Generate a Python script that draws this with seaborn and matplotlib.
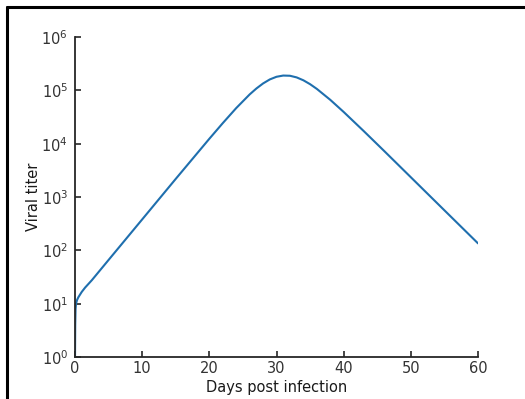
import matplotlib
matplotlib.use("Agg")
import matplotlib.pyplot as plt
import seaborn as sns
import pandas as pd
from matplotlib.lines import Line2D

days = [0, 0.03, 0.08, 0.15, 0.3, 0.5, 1.0, 1.5, 2.5, 5, 10, 15, 20, 22, 24, 26, 27,
        28, 29, 30, 31, 32, 33, 34, 35, 36, 38, 40, 43, 46, 50, 55, 60]
titer = [1, 3.98, 7.94, 10, 11.7, 13.2, 16.6, 20.0, 27.5, 66.1, 380, 2188, 12360,
         24270, 46450, 83750, 108100, 134600, 160000, 179500, 189200, 187500,
         174600, 154200, 130300, 106400, 66370, 39260, 17140, 7345, 2344, 562, 135]
x_ticks = [0, 10, 20, 30, 40, 50, 60]
y_ticks = [1e0, 1e1, 1e2, 1e3, 1e4, 1e5, 1e6]

sns.set_style("ticks")
plt.rcParams['font.family'] = ['DejaVu Sans']
plt.rcParams['xtick.direction'] = 'in'
plt.rcParams['ytick.direction'] = 'in'

df = pd.DataFrame({"day": days, "titer": titer})

fig = plt.figure(figsize=(5.25, 3.99), dpi=100)
ax = fig.add_axes([0.1429, 0.1053, 0.9105 - 0.1429, 0.9073 - 0.1053])
sns.lineplot(data=df, x="day", y="titer", ax=ax, color="#1f6fae", linewidth=1.5,
             estimator=None, sort=False)
ax.set_yscale("log")
ax.set_xlim(0, 60)
ax.set_ylim(1, 1e6)
ax.set_xticks(x_ticks)
ax.set_yticks(y_ticks)
ax.yaxis.set_minor_locator(matplotlib.ticker.NullLocator())
ax.tick_params(which="both", direction="in", length=4, width=1.2, color="#262626",
               labelsize=10.5, labelcolor="#333333")
ax.tick_params(axis="x", pad=3)
ax.tick_params(axis="y", pad=5)
for s in ["top", "right"]:
    ax.spines[s].set_visible(False)
for s in ["left", "bottom"]:
    ax.spines[s].set_color("#262626")
    ax.spines[s].set_linewidth(1.3)
ax.set_xlabel("Days post infection", fontsize=10.5, color="#1a1a1a", labelpad=3)
ax.set_ylabel("Viral titer", fontsize=10.5, color="#1a1a1a", labelpad=0)

fig.add_artist(Line2D([7 / 525, 1.0], [1 - 7 / 399, 1 - 7 / 399],
                      transform=fig.transFigure, color="black", linewidth=2.2))
fig.add_artist(Line2D([7 / 525, 7 / 525], [0, 1 - 7 / 399],
                      transform=fig.transFigure, color="black", linewidth=2.2))

fig.savefig("out.png", dpi=100)
